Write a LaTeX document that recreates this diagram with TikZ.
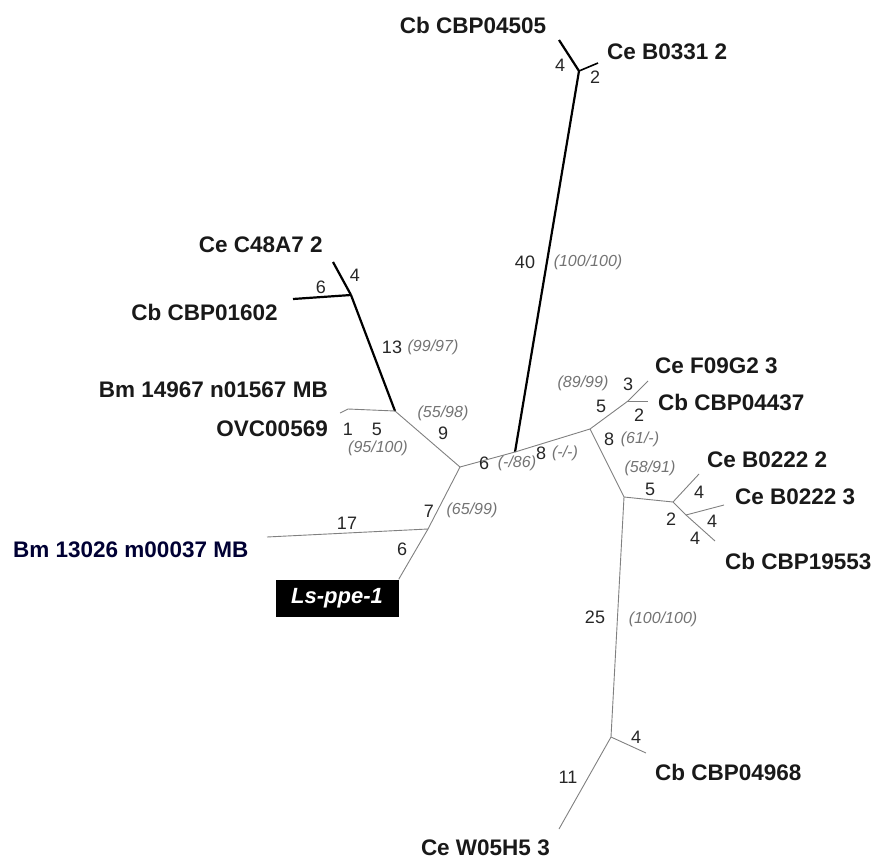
\documentclass[tikz,border=0pt]{standalone}
\usepackage{fontspec}
\setmainfont{Liberation Sans}
\begin{document}
\begin{tikzpicture}[x=1pt,y=-1pt,
  taxon/.style={font=\fontsize{22.5}{25}\selectfont\bfseries, inner sep=0pt, text=black!90},
  blen/.style={font=\fontsize{18}{20}\selectfont, inner sep=0pt, text=black!85},
  supp/.style={font=\fontsize{16}{18}\selectfont\itshape, text=black!55, inner sep=0pt},
  thinbr/.style={draw=black!50, line width=0.9pt},
  thickbr/.style={draw=black, line width=2.2pt},
  lsbox/.style={fill=black, text=white, font=\fontsize{22}{24}\selectfont\bfseries\itshape, minimum width=123pt, minimum height=37pt, inner sep=0pt}
]
\useasboundingbox (0,0) rectangle (878,859);
% internal nodes
\coordinate (A) at (460,467);
\coordinate (B) at (515,452);
\coordinate (C) at (590,429);
\coordinate (D) at (628,401);
\coordinate (E) at (624,497);
\coordinate (F) at (673,502);
\coordinate (G) at (686,515);
\coordinate (H) at (611,737);
\coordinate (I) at (579,71);
\coordinate (J) at (351,295);
\coordinate (K) at (395,411);
\coordinate (L) at (428,529);
% tips
\coordinate (tCbA) at (559,40);
\coordinate (tB0331) at (598,63);
\coordinate (tC48) at (333,262);
\coordinate (t01602) at (293,299);
\coordinate (tOVC) at (340,413);
\coordinate (tOVCb) at (348,409);
\coordinate (tBm) at (267,537);
\coordinate (tF09) at (648,381);
\coordinate (t04437) at (648,401);
\coordinate (tB2) at (699,474);
\coordinate (tB3) at (724,505);
\coordinate (t19553) at (715,541);
\coordinate (t04968) at (646,753);
\coordinate (tW05) at (559,829);

\node[lsbox] (ls) at (337,598) {Ls-ppe-1};

% thick branches
\draw[thickbr] (B) -- (I);
\draw[thickbr] (I) -- (tCbA);
\draw[thickbr, line width=1.6pt] (I) -- (tB0331);
\draw[thickbr] (K) -- (J);
\draw[thickbr] (J) -- (tC48);
\draw[thickbr] (J) -- (t01602);
% thin branches
\draw[thinbr] (A) -- (K);
\draw[thinbr] (K) -- (tOVCb) -- (tOVC);
\draw[thinbr] (A) -- (B);
\draw[thinbr] (B) -- (C);
\draw[thinbr] (C) -- (D);
\draw[thinbr] (D) -- (tF09);
\draw[thinbr] (D) -- (t04437);
\draw[thinbr] (C) -- (E);
\draw[thinbr] (E) -- (F);
\draw[thinbr] (F) -- (tB2);
\draw[thinbr] (F) -- (G);
\draw[thinbr] (G) -- (tB3);
\draw[thinbr] (G) -- (t19553);
\draw[thinbr] (E) -- (H);
\draw[thinbr] (H) -- (t04968);
\draw[thinbr] (H) -- (tW05);
\draw[thinbr] (A) -- (L);
\draw[thinbr] (L) -- (tBm);
\draw[thinbr] (L) -- (ls.north east);

% taxa
\node[taxon] (n1) at (473,25) {Cb CBP04505};
\node[taxon, anchor=west] (n2) at (607,52) {Ce B0331 2};
\node[taxon, anchor=east] (n3) at (323,245) {Ce C48A7 2};
\node[taxon, anchor=east] (n4) at (278,312) {Cb CBP01602};
\node[taxon, anchor=east] (n5) at (328,390) {Bm 14967 n01567 MB};
\node[taxon, anchor=east] (n6) at (328,429) {OVC00569};
\node[taxon, anchor=west, text=black!80!blue] (n7) at (13,550) {Bm 13026 m00037 MB};
\node[taxon, anchor=west] (n8) at (655,366) {Ce F09G2 3};
\node[taxon, anchor=west] (n9) at (658,402) {Cb CBP04437};
\node[taxon, anchor=west] (n10) at (707,460) {Ce B0222 2};
\node[taxon, anchor=west] (n11) at (735,497) {Ce B0222 3};
\node[taxon, anchor=west] (n12) at (725,561) {Cb CBP19553};
\node[taxon, anchor=west] (n13) at (655,772) {Cb CBP04968};
\node[taxon, anchor=east] (n14) at (550,848) {Ce W05H5 3};

% branch lengths
\node[blen] (b1) at (560,65) {4};
\node[blen] (b2) at (595,77) {2};
\node[blen] (b3) at (525,262) {40};
\node[blen] (b4) at (355,275) {4};
\node[blen] (b5) at (321,287) {6};
\node[blen] (b6) at (392,347) {13};
\node[blen] (b7) at (348,429) {1};
\node[blen] (b8) at (377,429) {5};
\node[blen] (b9) at (443,433) {9};
\node[blen] (b10) at (484,463) {6};
\node[blen] (b11) at (541,453) {8};
\node[blen] (b12) at (628,384) {3};
\node[blen] (b13) at (601,406) {5};
\node[blen] (b14) at (639,415) {2};
\node[blen] (b15) at (609,439) {8};
\node[blen] (b16) at (650,489) {5};
\node[blen] (b17) at (699,492) {4};
\node[blen] (b18) at (671,519) {2};
\node[blen] (b19) at (712,521) {4};
\node[blen] (b20) at (695,538) {4};
\node[blen] (b21) at (347,523) {17};
\node[blen] (b22) at (429,511) {7};
\node[blen] (b23) at (402,549) {6};
\node[blen] (b24) at (595,617) {25};
\node[blen] (b25) at (636,737) {4};
\node[blen] (b26) at (568,777) {11};

% support values
\node[supp] (s1) at (588,262) {(100/100)};
\node[supp] (s2) at (433,347) {(99/97)};
\node[supp] (s3) at (443,413) {(55/98)};
\node[supp] (s4) at (378,448) {(95/100)};
\node[supp] (s5) at (517,463) {(-/86)};
\node[supp] (s6) at (565,453) {(-/-)};
\node[supp] (s7) at (583,383) {(89/99)};
\node[supp] (s8) at (640,439) {(61/-)};
\node[supp] (s9) at (650,468) {(58/91)};
\node[supp] (s10) at (472,510) {(65/99)};
\node[supp] (s11) at (663,619) {(100/100)};
\end{tikzpicture}
\end{document}
